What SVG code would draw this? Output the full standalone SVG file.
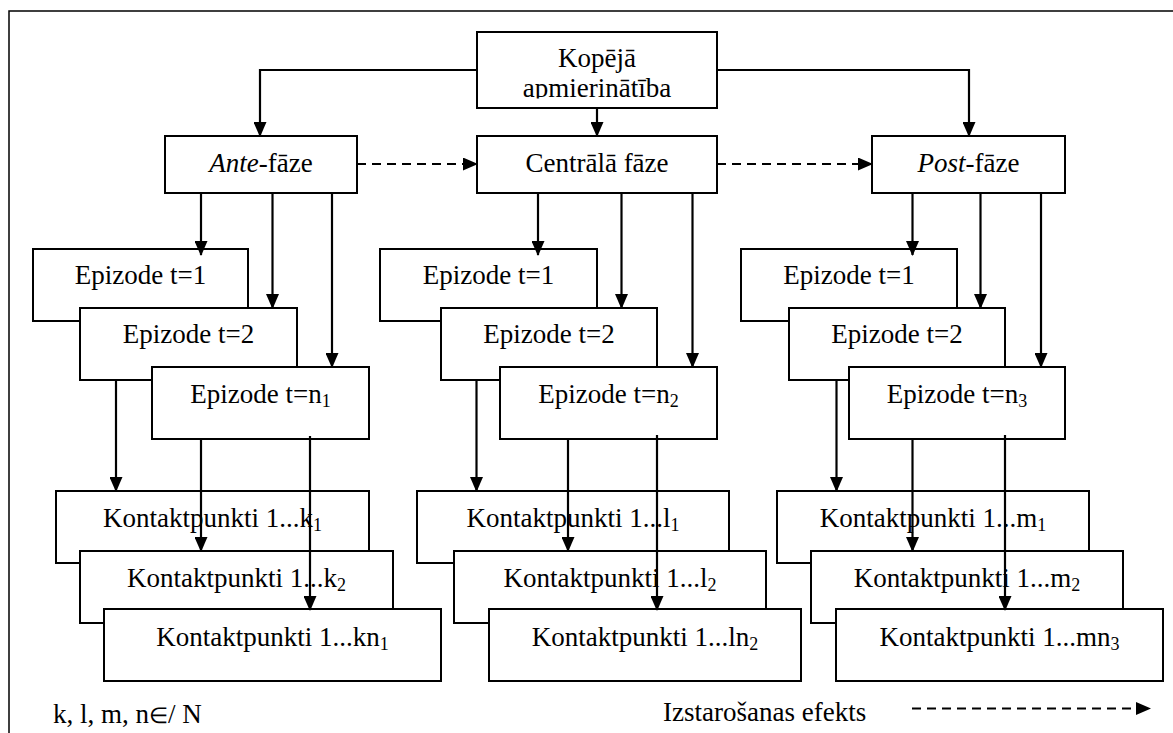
<svg xmlns="http://www.w3.org/2000/svg" width="1173" height="733" viewBox="0 0 1173 733">
<style>
.box{fill:#fff;stroke:#000;stroke-width:2}
.t{font-family:"Liberation Serif","Times New Roman",serif;font-size:27px;fill:#000;text-anchor:middle}
.tl{font-family:"Liberation Serif","Times New Roman",serif;font-size:27px;fill:#000}
.c{fill:none;stroke:#000;stroke-width:2.2;marker-end:url(#ah)}
.d{fill:none;stroke:#000;stroke-width:2.2;stroke-dasharray:9 6;marker-end:url(#ah)}
</style>
<defs>
<marker id="ah" markerUnits="userSpaceOnUse" markerWidth="15" markerHeight="13" refX="14" refY="6.5" orient="auto">
<path d="M0,0 L15,6.5 L0,13 z" fill="#000"/>
</marker>
<clipPath id="topclip"><rect x="477" y="32" width="240" height="66.5"/></clipPath>
</defs>
<rect width="1173" height="733" fill="#fff"/>
<rect x="9" y="11" width="1190" height="760" fill="none" stroke="#000" stroke-width="1.5"/>

<g id="top">
<rect class="box" x="477" y="32" width="240" height="76"/>
<g clip-path="url(#topclip)">
<text class="t" x="597" y="67">Kopējā</text>
<text class="t" x="597" y="97">apmierinātība</text>
</g>
</g>

<g id="ante">
<rect class="box" x="165" y="136" width="192" height="57"/>
<text class="t" x="261" y="172"><tspan font-style="italic">Ante</tspan>-fāze</text>
</g>
<g id="central">
<rect class="box" x="477" y="136" width="240" height="57"/>
<text class="t" x="597" y="172">Centrālā fāze</text>
</g>
<g id="post">
<rect class="box" x="872" y="136" width="193" height="57"/>
<text class="t" x="968.5" y="172"><tspan font-style="italic">Post</tspan>-fāze</text>
</g>

<g id="ep-a1"><rect class="box" x="33" y="249" width="215" height="72"/><text class="t" x="140.5" y="284">Epizode t=1</text></g>
<g id="ep-a2"><rect class="box" x="80" y="308" width="217" height="72"/><text class="t" x="188.5" y="343">Epizode t=2</text></g>
<g id="ep-an"><rect class="box" x="152" y="367" width="217" height="72"/><text class="t" x="260.5" y="403">Epizode t=n<tspan font-size="18" dy="4">1</tspan></text></g>

<g id="ep-c1"><rect class="box" x="380" y="249" width="217" height="72"/><text class="t" x="488.5" y="284">Epizode t=1</text></g>
<g id="ep-c2"><rect class="box" x="441" y="308" width="216" height="72"/><text class="t" x="549" y="343">Epizode t=2</text></g>
<g id="ep-cn"><rect class="box" x="500" y="367" width="217" height="72"/><text class="t" x="608.5" y="403">Epizode t=n<tspan font-size="18" dy="4">2</tspan></text></g>

<g id="ep-p1"><rect class="box" x="741" y="249" width="216" height="72"/><text class="t" x="849" y="284">Epizode t=1</text></g>
<g id="ep-p2"><rect class="box" x="789" y="308" width="216" height="72"/><text class="t" x="897" y="343">Epizode t=2</text></g>
<g id="ep-pn"><rect class="box" x="849" y="367" width="216" height="72"/><text class="t" x="957" y="403">Epizode t=n<tspan font-size="18" dy="4">3</tspan></text></g>

<g id="k1"><rect class="box" x="56" y="491" width="313" height="72"/><text class="t" x="212.5" y="527">Kontaktpunkti 1...k<tspan font-size="18" dy="4">1</tspan></text></g>
<g id="k2"><rect class="box" x="80" y="551" width="313" height="72"/><text class="t" x="236.5" y="587">Kontaktpunkti 1...k<tspan font-size="18" dy="4">2</tspan></text></g>
<g id="kn"><rect class="box" x="104" y="609" width="337" height="72"/><text class="t" x="272.5" y="646">Kontaktpunkti 1...kn<tspan font-size="18" dy="4">1</tspan></text></g>

<g id="l1"><rect class="box" x="417" y="491" width="312" height="72"/><text class="t" x="573" y="527">Kontaktpunkti 1...l<tspan font-size="18" dy="4">1</tspan></text></g>
<g id="l2"><rect class="box" x="454" y="551" width="312" height="72"/><text class="t" x="610" y="587">Kontaktpunkti 1...l<tspan font-size="18" dy="4">2</tspan></text></g>
<g id="ln"><rect class="box" x="489" y="609" width="312" height="72"/><text class="t" x="645" y="646">Kontaktpunkti 1...ln<tspan font-size="18" dy="4">2</tspan></text></g>

<g id="m1"><rect class="box" x="777" y="491" width="312" height="72"/><text class="t" x="933" y="527">Kontaktpunkti 1...m<tspan font-size="18" dy="4">1</tspan></text></g>
<g id="m2"><rect class="box" x="811" y="551" width="312" height="72"/><text class="t" x="967" y="587">Kontaktpunkti 1...m<tspan font-size="18" dy="4">2</tspan></text></g>
<g id="mn"><rect class="box" x="836" y="609" width="327" height="72"/><text class="t" x="999.5" y="646">Kontaktpunkti 1...mn<tspan font-size="18" dy="4">3</tspan></text></g>

<g id="connectors">
<path class="c" d="M477,70 H260 V136"/>
<path class="c" d="M597,108 V136"/>
<path class="c" d="M717,70 H969 V136"/>
<path class="d" d="M357,164 H477"/>
<path class="d" d="M717,164 H872"/>
<path class="c" d="M201,193 V255"/>
<path class="c" d="M272.5,193 V308"/>
<path class="c" d="M332,193 V367"/>
<path class="c" d="M538,193 V255"/>
<path class="c" d="M621.5,193 V308"/>
<path class="c" d="M692.5,193 V367"/>
<path class="c" d="M912.5,193 V255"/>
<path class="c" d="M980.5,193 V308"/>
<path class="c" d="M1041,193 V367"/>
<path class="c" d="M116,380 V491"/>
<path class="c" d="M201,439 V551"/>
<path class="c" d="M310,436 V610"/>
<path class="c" d="M476.5,380 V491"/>
<path class="c" d="M568,439 V551"/>
<path class="c" d="M657,435 V610"/>
<path class="c" d="M836.5,380 V491"/>
<path class="c" d="M912.5,439 V551"/>
<path class="c" d="M1005,435 V610"/>
<path class="d" d="M912,708.5 H1150"/>
</g>

<g id="legend">
<text class="tl" x="53" y="723">k, l, m, n<tspan font-size="22">∈</tspan>/ N</text>
<text class="tl" x="663" y="721">Izstarošanas efekts</text>
</g>
</svg>
